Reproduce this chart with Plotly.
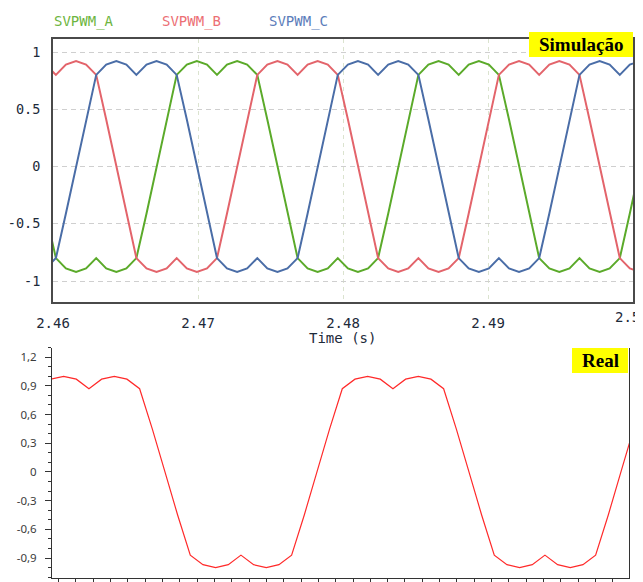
import plotly.graph_objects as go

# The page body adds an 8 px margin, so the figure is placed at (8, 8).
OFF = 8
W, H = 643 - OFF, 582 - OFF

# ---------------- Simulation data ----------------
sim_time = [2.45950, 2.46020, 2.46089, 2.46159, 2.46228, 2.46298, 2.46367, 2.46437, 2.46506, 2.46575,
            2.46645, 2.46714, 2.46784, 2.46853, 2.46923, 2.46992, 2.47062, 2.47131, 2.47200, 2.47270,
            2.47339, 2.47409, 2.47478, 2.47548, 2.47617, 2.47687, 2.47756, 2.47825, 2.47895, 2.47964,
            2.48034, 2.48103, 2.48173, 2.48242, 2.48312, 2.48381, 2.48450, 2.48520, 2.48589, 2.48659,
            2.48728, 2.48798, 2.48867, 2.48937, 2.49006, 2.49075, 2.49145, 2.49214, 2.49284, 2.49353,
            2.49423, 2.49492, 2.49562, 2.49631, 2.49700, 2.49770, 2.49839, 2.49909, 2.49978, 2.50048]

svpwm_a = [-0.41, -0.80, -0.89, -0.92, -0.89, -0.80, -0.89, -0.92, -0.89, -0.80, -0.41,
           0, 0.41, 0.80, 0.89, 0.92, 0.89, 0.80, 0.89, 0.92, 0.89, 0.80, 0.41,
           0, -0.41, -0.80, -0.89, -0.92, -0.89, -0.80, -0.89, -0.92, -0.89, -0.80, -0.41,
           0, 0.41, 0.80, 0.89, 0.92, 0.89, 0.80, 0.89, 0.92, 0.89, 0.80, 0.41,
           0, -0.41, -0.80, -0.89, -0.92, -0.89, -0.80, -0.89, -0.92, -0.89, -0.80, -0.41,
           0]
svpwm_b = [0.89, 0.80, 0.89, 0.92, 0.89, 0.80, 0.41,
           0, -0.41, -0.80, -0.89, -0.92, -0.89, -0.80, -0.89, -0.92, -0.89, -0.80, -0.41,
           0, 0.41, 0.80, 0.89, 0.92, 0.89, 0.80, 0.89, 0.92, 0.89, 0.80, 0.41,
           0, -0.41, -0.80, -0.89, -0.92, -0.89, -0.80, -0.89, -0.92, -0.89, -0.80, -0.41,
           0, 0.41, 0.80, 0.89, 0.92, 0.89, 0.80, 0.89, 0.92, 0.89, 0.80, 0.41,
           0, -0.41, -0.80, -0.89, -0.92]
svpwm_c = [-0.89, -0.80, -0.41,
           0, 0.41, 0.80, 0.89, 0.92, 0.89, 0.80, 0.89, 0.92, 0.89, 0.80, 0.41,
           0, -0.41, -0.80, -0.89, -0.92, -0.89, -0.80, -0.89, -0.92, -0.89, -0.80, -0.41,
           0, 0.41, 0.80, 0.89, 0.92, 0.89, 0.80, 0.89, 0.92, 0.89, 0.80, 0.41,
           0, -0.41, -0.80, -0.89, -0.92, -0.89, -0.80, -0.89, -0.92, -0.89, -0.80, -0.41,
           0, 0.41, 0.80, 0.89, 0.92, 0.89, 0.80, 0.89, 0.92]

sim_names = ["SVPWM_A", "SVPWM_B", "SVPWM_C"]
sim_colors = ["#5BAA2A", "#E3646B", "#4A6DA7"]
sim_text_colors = ["#6DB540", "#EC6F74", "#5B7DBA"]
sim_xticks = [2.46, 2.47, 2.48, 2.49, 2.50]
sim_xticktext = ["2.46", "2.47", "2.48", "2.49", "2.5"]
sim_yticks = [-1, -0.5, 0, 0.5, 1]
sim_yticktext = ["-1", "-0.5", "0", "0.5", "1"]

# ---------------- Real data ----------------
real_x = [-1.160, -0.429, 0.302, 1.033, 1.764, 2.495, 3.225, 3.956, 4.687, 5.418,
          6.149, 6.880, 7.611, 8.342, 9.073, 9.804, 10.534, 11.265, 11.996, 12.727,
          13.458, 14.189, 14.920, 15.651, 16.382, 17.113, 17.843, 18.574, 19.305, 20.036,
          20.767, 21.498, 22.229, 22.960, 23.691, 24.422, 25.152, 25.883, 26.614, 27.345,
          28.076, 28.807, 29.538, 30.269, 31.000, 31.731, 32.461, 33.192]
real_y = [0.87, 0.97, 1.0, 0.97, 0.87, 0.97, 1.0, 0.97, 0.87, 0.45, 0, -0.45,
          -0.87, -0.97, -1.0, -0.97, -0.87, -0.97, -1.0, -0.97, -0.87, -0.45,
          0, 0.45, 0.87, 0.97, 1.0, 0.97, 0.87, 0.97, 1.0, 0.97, 0.87, 0.45, 0, -0.45,
          -0.87, -0.97, -1.0, -0.97, -0.87, -0.97, -1.0, -0.97, -0.87, -0.45,
          0, 0.45]
real_yticks = [-0.9, -0.6, -0.3, 0, 0.3, 0.6, 0.9, 1.2]
real_yticktext = ["-0,9", "-0,6", "-0,3", "0", "0,3", "0,6", "0,9", "1,2"]


def px_x(p):
    return (p - OFF) / W


def px_y(p):
    return 1 - (p - OFF) / H


fig = go.Figure()
for vals, name, col in zip([svpwm_a, svpwm_b, svpwm_c], sim_names, sim_colors):
    fig.add_trace(go.Scatter(x=sim_time, y=vals, mode="lines", name=name,
                             line=dict(color=col, width=2), xaxis="x", yaxis="y"))

fig.add_trace(go.Scatter(x=real_x, y=real_y, mode="lines", name="Real",
                         line=dict(color="#FF2A2A", width=1.2), xaxis="x2", yaxis="y2"))

mono = "DejaVu Sans Mono"
lab_col = "#1d2a3a"

# the last x label sits at the right edge; it is drawn as an annotation kept inside the page
xt_shown = sim_xticktext[:-1] + [""]

fig.update_layout(
    width=W, height=H, margin=dict(l=0, r=0, t=0, b=0, autoexpand=False),
    paper_bgcolor="white", plot_bgcolor="white", showlegend=False,
    xaxis=dict(domain=[px_x(53), px_x(633)], range=[2.46, 2.50], anchor="y", automargin=False,
               tickmode="array", tickvals=sim_xticks, ticktext=xt_shown,
               showline=True, mirror=True, linecolor="#4a4a4a", linewidth=2,
               showgrid=True, gridcolor="#dbe3cf", griddash="4px,4px", gridwidth=1,
               zeroline=False, ticks="", ticklabelstandoff=8,
               tickfont=dict(family=mono, size=14, color=lab_col)),
    yaxis=dict(domain=[px_y(301.5), px_y(39)], range=[-1.179, 1.1135], anchor="x", automargin=False,
               tickmode="array", tickvals=sim_yticks, ticktext=sim_yticktext,
               showline=True, mirror=True, linecolor="#4a4a4a", linewidth=2,
               showgrid=True, gridcolor="#cfcfcf", griddash="5px,4px", gridwidth=1,
               zeroline=False, ticks="", ticklabelstandoff=8,
               tickfont=dict(family=mono, size=13.5, color=lab_col)),
    xaxis2=dict(domain=[px_x(52), px_x(629)], range=[-0.369, 32.926], anchor="y2", automargin=False,
                tick0=0, dtick=1, ticks="outside", ticklen=5, tickcolor="#333333",
                showticklabels=False, showline=True, linecolor="#333333", linewidth=1,
                showgrid=False, zeroline=False),
    yaxis2=dict(domain=[px_y(578), px_y(347.6)], range=[-1.109, 1.30], anchor="x2", automargin=False,
                tickmode="array", tickvals=real_yticks, ticktext=real_yticktext,
                ticks="outside", ticklen=6, tickcolor="#333333",
                minor=dict(tickmode="linear", tick0=0, dtick=0.1, ticks="outside",
                           ticklen=3, tickcolor="#333333"),
                showline=True, mirror=True, linecolor="#333333", linewidth=1,
                showgrid=False, zeroline=False, ticklabelstandoff=6,
                tickfont=dict(family="Noto Sans", size=11.5, color="#3c3c3c")),
)

fig.add_annotation(xref="paper", yref="paper", x=px_x(642), y=px_y(317),
                   xanchor="right", yanchor="middle", text=sim_xticktext[-1], showarrow=False,
                   font=dict(family=mono, size=14, color=lab_col))

# Legend as coloured text
leg_x = [52, 160, 267]
for name, col, lx in zip(sim_names, sim_text_colors, leg_x):
    fig.add_annotation(xref="paper", yref="paper", x=px_x(lx), y=px_y(21),
                       xanchor="left", yanchor="middle", text=name, showarrow=False,
                       font=dict(family=mono, size=14, color=col))

fig.add_annotation(xref="paper", yref="paper", x=px_x(343), y=px_y(338),
                   xanchor="center", yanchor="middle", text="Time (s)", showarrow=False,
                   font=dict(family=mono, size=14, color=lab_col))

# Yellow label boxes
fig.add_shape(type="rect", xref="paper", yref="paper", x0=px_x(529), x1=px_x(633),
              y0=px_y(57), y1=px_y(32), fillcolor="#FFFF00", line=dict(width=0), layer="above")
fig.add_annotation(xref="paper", yref="paper", x=px_x(581), y=px_y(44.5),
                   xanchor="center", yanchor="middle", text="<b>Simulação</b>", showarrow=False,
                   font=dict(family="Liberation Serif", size=19, color="black"))
fig.add_shape(type="rect", xref="paper", yref="paper", x0=px_x(572), x1=px_x(628),
              y0=px_y(373), y1=px_y(348), fillcolor="#FFFF00", line=dict(width=0), layer="above")
fig.add_annotation(xref="paper", yref="paper", x=px_x(600), y=px_y(360.5),
                   xanchor="center", yanchor="middle", text="<b>Real</b>", showarrow=False,
                   font=dict(family="Liberation Serif", size=19, color="black"))

fig.write_html("out.html")
